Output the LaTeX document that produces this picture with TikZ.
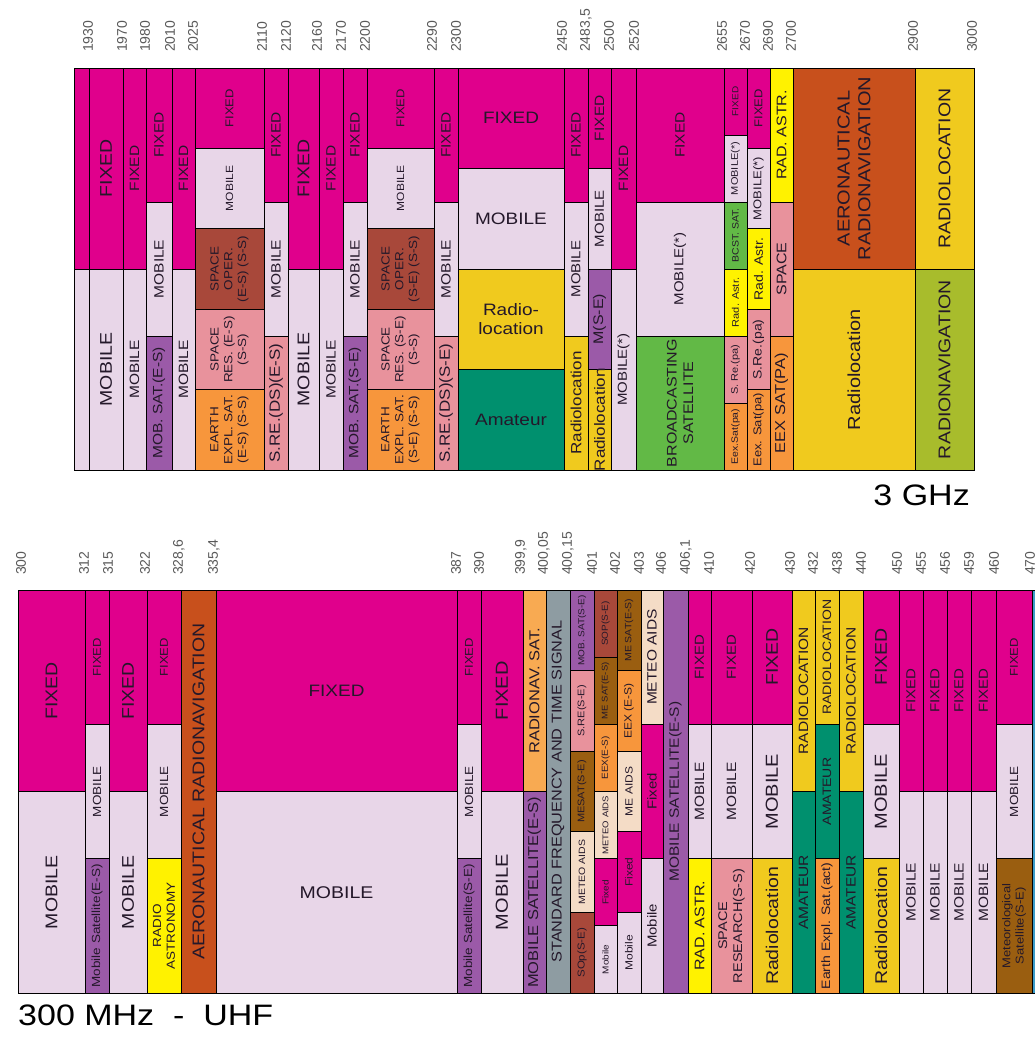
\documentclass[tikz,border=0pt]{standalone}
\usepackage{fontspec}
\setmainfont{Liberation Sans}

\definecolor{cfix}{HTML}{E0008C}
\definecolor{cmob}{HTML}{E8D6E8}
\definecolor{cmsat}{HTML}{9B5AA8}
\definecolor{csop}{HTML}{A8483A}
\definecolor{csre}{HTML}{E8929C}
\definecolor{ceex}{HTML}{F7963C}
\definecolor{crloc}{HTML}{F0CA1E}
\definecolor{cama}{HTML}{00906E}
\definecolor{crast}{HTML}{FFF200}
\definecolor{cbcst}{HTML}{62B946}
\definecolor{caero}{HTML}{C8501C}
\definecolor{crnav}{HTML}{A8BC2C}
\definecolor{crnsat}{HTML}{F8AA52}
\definecolor{cstd}{HTML}{8E9CA2}
\definecolor{cmet}{HTML}{9A5E10}
\definecolor{cmaid}{HTML}{F4DCC6}
\definecolor{cblue}{HTML}{3C9CC8}
\definecolor{ctxt}{HTML}{24182A}

\newcommand{\fsz}[1]{\fontsize{#1}{\dimexpr #1pt*118/100\relax}\selectfont}
% one band: [text options]{x1}{y1}{x2}{y2}{fill}{text}
\newcommand{\cell}[7][]{%
  \filldraw[cellbox, fill=#6] (#2,#3) rectangle (#4,#5);
  \path (#2,#3) -- (#4,#5) node[midway, vtext, #1] {#7};}
\newcommand{\hcell}[7][]{%
  \filldraw[cellbox, fill=#6] (#2,#3) rectangle (#4,#5);
  \path (#2,#3) -- (#4,#5) node[midway, htext, #1] {#7};}

\begin{document}
\begin{tikzpicture}[
  x=1pt, y=-1pt,
  cellbox/.style={draw=black, line width=1pt},
  fs/.style={font=\fsz{#1}},
  vtext/.style={rotate=90, yscale=0.87, align=center, inner sep=0pt, text=ctxt, fs=15},
  htext/.style={yscale=0.87, align=center, inner sep=0pt, text=ctxt, fs=19},
  freq/.style={rotate=90, anchor=west, inner sep=0pt, text=black!65, fs=14},
  title/.style={yscale=0.87, inner sep=0pt, text=black, fs=34}
]
\useasboundingbox (0,0) rectangle (1035,1037);

% 1.9 - 3 GHz
\cell{74}{68}{89}{269}{cfix}{}
\cell{74}{269}{89}{470}{cmob}{}
\cell[fs=19.5]{89}{68}{123}{269}{cfix}{FIXED}
\cell[fs=19.5]{89}{269}{123}{470}{cmob}{MOBILE}
\cell[fs=15.5]{123}{68}{146}{269}{cfix}{FIXED}
\cell[fs=15.5]{123}{269}{146}{470}{cmob}{MOBILE}
\cell[fs=15.5]{146}{68}{172}{202}{cfix}{FIXED}
\cell[fs=15.5]{146}{202}{172}{336}{cmob}{MOBILE}
\cell[fs=15.5]{146}{336}{172}{470}{cmsat}{MOB. SAT.(E-S)}
\cell[fs=15.5]{172}{68}{195}{269}{cfix}{FIXED}
\cell[fs=15.5]{172}{269}{195}{470}{cmob}{MOBILE}
\cell[fs=13]{195}{68}{264}{148.4}{cfix}{FIXED}
\cell[fs=12]{195}{148.4}{264}{228.8}{cmob}{MOBILE}
\cell[fs=13.5]{195}{228.8}{264}{309.2}{csop}{SPACE\\OPER.\\(E-S) (S-S)}
\cell[fs=13.5]{195}{309.2}{264}{389.6}{csre}{SPACE\\RES. (E-S)\\(S-S)}
\cell[fs=13.5]{195}{389.6}{264}{470}{ceex}{EARTH\\EXPL. SAT.\\(E-S) (S-S)}
\cell[fs=15.5]{264}{68}{288}{202}{cfix}{FIXED}
\cell[fs=15.5]{264}{202}{288}{336}{cmob}{MOBILE}
\cell[fs=17]{264}{336}{288}{470}{csre}{S.RE.(DS)(E-S)}
\cell[fs=19.5]{288}{68}{319}{269}{cfix}{FIXED}
\cell[fs=19.5]{288}{269}{319}{470}{cmob}{MOBILE}
\cell[fs=15.5]{319}{68}{343}{269}{cfix}{FIXED}
\cell[fs=15.5]{319}{269}{343}{470}{cmob}{MOBILE}
\cell[fs=15.5]{343}{68}{367}{202}{cfix}{FIXED}
\cell[fs=15.5]{343}{202}{367}{336}{cmob}{MOBILE}
\cell[fs=15.5]{343}{336}{367}{470}{cmsat}{MOB. SAT.(S-E)}
\cell[fs=13]{367}{68}{434}{148.4}{cfix}{FIXED}
\cell[fs=12]{367}{148.4}{434}{228.8}{cmob}{MOBILE}
\cell[fs=13.5]{367}{228.8}{434}{309.2}{csop}{SPACE\\OPER.\\(S-E) (S-S)}
\cell[fs=13.5]{367}{309.2}{434}{389.6}{csre}{SPACE\\RES. (S-E)\\(S-S)}
\cell[fs=13.5]{367}{389.6}{434}{470}{ceex}{EARTH\\EXPL. SAT.\\(S-E) (S-S)}
\cell[fs=15.5]{434}{68}{458}{202}{cfix}{FIXED}
\cell[fs=15.5]{434}{202}{458}{336}{cmob}{MOBILE}
\cell[fs=17]{434}{336}{458}{470}{csre}{S.RE.(DS)(S-E)}
\hcell[fs=19]{458}{68}{564}{168.5}{cfix}{FIXED}
\hcell[fs=19]{458}{168.5}{564}{269}{cmob}{MOBILE}
\hcell[fs=19]{458}{269}{564}{369.5}{crloc}{Radio-\\location}
\hcell[fs=19]{458}{369.5}{564}{470}{cama}{Amateur}
\cell[fs=15.5]{564}{68}{588}{202}{cfix}{FIXED}
\cell[fs=15]{564}{202}{588}{336}{cmob}{MOBILE}
\cell[fs=17]{564}{336}{588}{470}{crloc}{Radiolocation}
\cell[fs=15.5]{588}{68}{611}{168.5}{cfix}{FIXED}
\cell[fs=15]{588}{168.5}{611}{269}{cmob}{MOBILE}
\cell[fs=16]{588}{269}{611}{369.5}{cmsat}{M(S-E)}
\cell[fs=17]{588}{369.5}{611}{470}{crloc}{Radiolocation}
\cell[fs=15.5]{611}{68}{636}{269}{cfix}{FIXED}
\cell[fs=15]{611}{269}{636}{470}{cmob}{MOBILE(*)}
\cell[fs=15.5]{636}{68}{724}{202}{cfix}{FIXED}
\cell[fs=15]{636}{202}{724}{336}{cmob}{MOBILE(*)}
\cell[fs=16]{636}{336}{724}{470}{cbcst}{BROADCASTING\\SATELLITE}
\cell[fs=10]{724}{68}{747}{135}{cfix}{FIXED}
\cell[fs=11]{724}{135}{747}{202}{cmob}{MOBILE(*)}
\cell[fs=10.5]{724}{202}{747}{269}{cbcst}{BCST. SAT.}
\cell[fs=11]{724}{269}{747}{336}{crast}{Rad. Astr.}
\cell[fs=11]{724}{336}{747}{403}{csre}{S. Re.(pa)}
\cell[fs=10.5]{724}{403}{747}{470}{ceex}{Eex.Sat(pa)}
\cell[fs=13]{747}{68}{770}{148.4}{cfix}{FIXED}
\cell[fs=13]{747}{148.4}{770}{228.8}{cmob}{MOBILE(*)}
\cell[fs=14]{747}{228.8}{770}{309.2}{crast}{Rad. Astr.}
\cell[fs=14]{747}{309.2}{770}{389.6}{csre}{S.Re.(pa)}
\cell[fs=13]{747}{389.6}{770}{470}{ceex}{Eex. Sat(pa)}
\cell[fs=16]{770}{68}{793}{202}{crast}{RAD. ASTR.}
\cell[fs=16]{770}{202}{793}{336}{csre}{SPACE}
\cell[fs=16.5]{770}{336}{793}{470}{ceex}{EEX SAT(PA)}
\cell[fs=20]{793}{68}{915}{269}{caero}{AERONAUTICAL\\RADIONAVIGATION}
\cell[fs=20]{793}{269}{915}{470}{crloc}{Radiolocation}
\cell[fs=19.5]{915}{68}{974}{269}{crloc}{RADIOLOCATION}
\cell[fs=19.5]{915}{269}{974}{470}{crnav}{RADIONAVIGATION}

\node[freq] (t1930) at (88,52) {1930};
\node[freq] (t1970) at (122,52) {1970};
\node[freq] (t1980) at (145,52) {1980};
\node[freq] (t2010) at (170,52) {2010};
\node[freq] (t2025) at (193,52) {2025};
\node[freq] (t2110) at (262,52) {2110};
\node[freq] (t2120) at (286,52) {2120};
\node[freq] (t2160) at (317,52) {2160};
\node[freq] (t2170) at (341,52) {2170};
\node[freq] (t2200) at (365,52) {2200};
\node[freq] (t2290) at (432,52) {2290};
\node[freq] (t2300) at (456,52) {2300};
\node[freq] (t2450) at (562,52) {2450};
\node[freq] (t2483) at (586,52) {2483,5};
\node[freq] (t2500) at (609,52) {2500};
\node[freq] (t2520) at (634,52) {2520};
\node[freq] (t2655) at (722,52) {2655};
\node[freq] (t2670) at (745,52) {2670};
\node[freq] (t2690) at (768,52) {2690};
\node[freq] (t2700) at (791,52) {2700};
\node[freq] (t2900) at (913,52) {2900};
\node[freq] (t3000) at (972,52) {3000};
\node[title, anchor=base east] (ghz) at (970,505) {3 GHz};

% 300 - 470 MHz
\cell[fs=19.5]{18}{590}{85}{791.5}{cfix}{FIXED}
\cell[fs=19.5]{18}{791.5}{85}{993}{cmob}{MOBILE}
\cell[fs=13]{85}{590}{109}{724.3}{cfix}{FIXED}
\cell[fs=13.5]{85}{724.3}{109}{858.7}{cmob}{MOBILE}
\cell[fs=13.5]{85}{858.7}{109}{993}{cmsat}{Mobile Satellite(E-S)}
\cell[fs=19.5]{109}{590}{147}{791.5}{cfix}{FIXED}
\cell[fs=19.5]{109}{791.5}{147}{993}{cmob}{MOBILE}
\cell[fs=13]{147}{590}{181}{724.3}{cfix}{FIXED}
\cell[fs=13.5]{147}{724.3}{181}{858.7}{cmob}{MOBILE}
\cell[fs=13.5]{147}{858.7}{181}{993}{crast}{RADIO\\ASTRONOMY}
\cell[fs=19.5]{181}{590}{216}{993}{caero}{AERONAUTICAL RADIONAVIGATION}
\hcell[fs=19]{216}{590}{457}{791.5}{cfix}{FIXED}
\hcell[fs=19.5]{216}{791.5}{457}{993}{cmob}{MOBILE}
\cell[fs=13]{457}{590}{481}{724.3}{cfix}{FIXED}
\cell[fs=13.5]{457}{724.3}{481}{858.7}{cmob}{MOBILE}
\cell[fs=13.5]{457}{858.7}{481}{993}{cmsat}{Mobile Satellite(S-E)}
\cell[fs=20]{481}{590}{523}{791.5}{cfix}{FIXED}
\cell[fs=20]{481}{791.5}{523}{993}{cmob}{MOBILE}
\cell[fs=16.5]{523}{590}{546}{791.5}{crnsat}{RADIONAV. SAT.}
\cell[fs=16.5]{523}{791.5}{546}{993}{cmsat}{MOBILE SATELLITE(E-S)}
\cell[fs=16.3]{546}{590}{570}{993}{cstd}{STANDARD FREQUENCY AND TIME SIGNAL}
\cell[fs=10]{570}{590}{594}{670.6}{cmsat}{MOB. SAT(S-E)}
\cell[fs=11]{570}{670.6}{594}{751.2}{csre}{S.RE(S-E)}
\cell[fs=11]{570}{751.2}{594}{831.8}{cmet}{MESAT(S-E)}
\cell[fs=10.5]{570}{831.8}{594}{912.4}{cmaid}{METEO AIDS}
\cell[fs=11.5]{570}{912.4}{594}{993}{csop}{SOp(S-E)}
\cell[fs=10]{594}{590}{617}{657.2}{csop}{SOP(S-E)}
\cell[fs=9.5]{594}{657.2}{617}{724.3}{cmet}{ME SAT(E-S)}
\cell[fs=10]{594}{724.3}{617}{791.5}{ceex}{EEX(E-S)}
\cell[fs=9.5]{594}{791.5}{617}{858.7}{cmaid}{METEO AIDS}
\cell[fs=10]{594}{858.7}{617}{925.8}{cfix}{Fixed}
\cell[fs=10]{594}{925.8}{617}{993}{cmob}{Mobile}
\cell[fs=10.5]{617}{590}{641}{670.6}{cmet}{ME SAT(E-S)}
\cell[fs=12]{617}{670.6}{641}{751.2}{ceex}{EEX (E-S)}
\cell[fs=12]{617}{751.2}{641}{831.8}{cmaid}{ME AIDS}
\cell[fs=12]{617}{831.8}{641}{912.4}{cfix}{Fixed}
\cell[fs=12]{617}{912.4}{641}{993}{cmob}{Mobile}
\cell[fs=15.5]{641}{590}{663}{724.3}{cmaid}{METEO AIDS}
\cell[fs=15]{641}{724.3}{663}{858.7}{cfix}{Fixed}
\cell[fs=15]{641}{858.7}{663}{993}{cmob}{Mobile}
\cell[fs=15.5]{663}{590}{688}{993}{cmsat}{MOBILE SATELLITE(E-S)}
\cell[fs=15]{688}{590}{711}{724.3}{cfix}{FIXED}
\cell[fs=15.5]{688}{724.3}{711}{858.7}{cmob}{MOBILE}
\cell[fs=16]{688}{858.7}{711}{993}{crast}{RAD. ASTR.}
\cell[fs=15]{711}{590}{752}{724.3}{cfix}{FIXED}
\cell[fs=15.5]{711}{724.3}{752}{858.7}{cmob}{MOBILE}
\cell[fs=14.5]{711}{858.7}{752}{993}{csre}{SPACE\\RESEARCH(S-S)}
\cell[fs=19.5]{752}{590}{792}{724.3}{cfix}{FIXED}
\cell[fs=20]{752}{724.3}{792}{858.7}{cmob}{MOBILE}
\cell[fs=19.5]{752}{858.7}{792}{993}{crloc}{Radiolocation}
\cell[fs=15.5]{792}{590}{815}{791.5}{crloc}{RADIOLOCATION}
\cell[fs=15.5]{792}{791.5}{815}{993}{cama}{AMATEUR}
\cell[fs=14]{815}{590}{839}{724.3}{crloc}{RADIOLOCATION}
\cell[fs=14]{815}{724.3}{839}{858.7}{cama}{AMATEUR}
\cell[fs=14]{815}{858.7}{839}{993}{ceex}{Earth Expl. Sat.(act)}
\cell[fs=15.5]{839}{590}{863}{791.5}{crloc}{RADIOLOCATION}
\cell[fs=15.5]{839}{791.5}{863}{993}{cama}{AMATEUR}
\cell[fs=19.5]{863}{590}{899}{724.3}{cfix}{FIXED}
\cell[fs=20]{863}{724.3}{899}{858.7}{cmob}{MOBILE}
\cell[fs=19.5]{863}{858.7}{899}{993}{crloc}{Radiolocation}
\cell[fs=15]{899}{590}{923}{791.5}{cfix}{FIXED}
\cell[fs=15.5]{899}{791.5}{923}{993}{cmob}{MOBILE}
\cell[fs=15]{923}{590}{947}{791.5}{cfix}{FIXED}
\cell[fs=15.5]{923}{791.5}{947}{993}{cmob}{MOBILE}
\cell[fs=15]{947}{590}{971}{791.5}{cfix}{FIXED}
\cell[fs=15.5]{947}{791.5}{971}{993}{cmob}{MOBILE}
\cell[fs=15]{971}{590}{996}{791.5}{cfix}{FIXED}
\cell[fs=15.5]{971}{791.5}{996}{993}{cmob}{MOBILE}
\cell[fs=13]{996}{590}{1032}{724.3}{cfix}{FIXED}
\cell[fs=13.5]{996}{724.3}{1032}{858.7}{cmob}{MOBILE}
\cell[fs=13]{996}{858.7}{1032}{993}{cmet}{Meteorological\\Satellite(S-E)}
\cell{1032}{590}{1045}{993}{cblue}{}

\node[freq] (b300) at (21,575) {300};
\node[freq] (b312) at (84,575) {312};
\node[freq] (b315) at (108,575) {315};
\node[freq] (b322) at (145,575) {322};
\node[freq] (b328) at (179,575) {328,6};
\node[freq] (b335) at (214,575) {335,4};
\node[freq] (b387) at (456,575) {387};
\node[freq] (b390) at (479,575) {390};
\node[freq] (b399) at (521,575) {399,9};
\node[freq] (b400a) at (544,575) {400,05};
\node[freq] (b400b) at (568,575) {400,15};
\node[freq] (b401) at (592,575) {401};
\node[freq] (b402) at (615,575) {402};
\node[freq] (b403) at (639,575) {403};
\node[freq] (b406) at (661,575) {406};
\node[freq] (b406a) at (686,575) {406,1};
\node[freq] (b410) at (709,575) {410};
\node[freq] (b420) at (750,575) {420};
\node[freq] (b430) at (790,575) {430};
\node[freq] (b432) at (813,575) {432};
\node[freq] (b438) at (837,575) {438};
\node[freq] (b440) at (861,575) {440};
\node[freq] (b450) at (897,575) {450};
\node[freq] (b455) at (921,575) {455};
\node[freq] (b456) at (945,575) {456};
\node[freq] (b459) at (969,575) {459};
\node[freq] (b460) at (994,575) {460};
\node[freq] (b470) at (1030,575) {470};
\node[title, anchor=base west] (mhz) at (18,1025) {300 MHz~~-~~UHF};

\end{tikzpicture}
\end{document}
